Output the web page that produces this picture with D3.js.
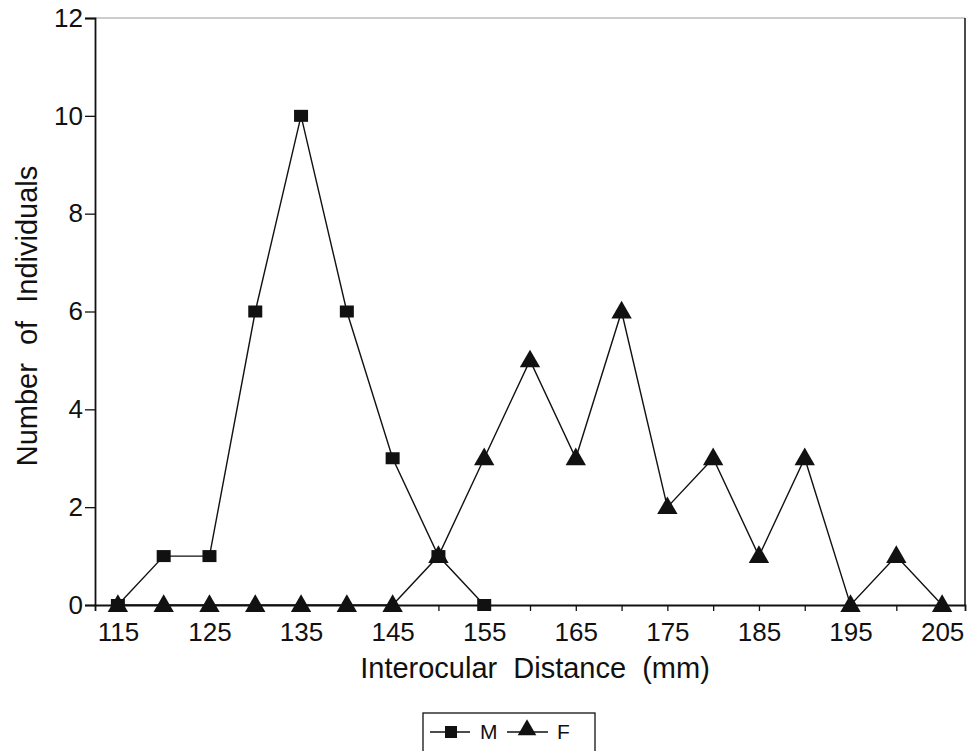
<!DOCTYPE html>
<html>
<head>
<meta charset="utf-8">
<script src="https://cdn.jsdelivr.net/npm/d3@7"></script>
<style>
  body { margin: 0; background: #fff; }
  text { font-family: "Liberation Sans", Arial, sans-serif; fill: #111; }
</style>
</head>
<body>
<svg id="chart" width="967" height="751"></svg>
<script>
// distances (mm) and counts
var distM = [115, 120, 125, 130, 135, 140, 145, 150, 155];
var countM = [0, 1, 1, 6, 10, 6, 3, 1, 0];
var distF = [115, 120, 125, 130, 135, 140, 145, 150, 155, 160, 165, 170, 175, 180, 185, 190, 195, 200, 205];
var countF = [0, 0, 0, 0, 0, 0, 0, 1, 3, 5, 3, 6, 2, 3, 1, 3, 0, 1, 0];
var xLabels = [115, 125, 135, 145, 155, 165, 175, 185, 195, 205];
var yLabels = [0, 2, 4, 6, 8, 10, 12];

var svg = d3.select('#chart');
var mLeft = 95, mRight = 965, mTop = 18, mBottom = 605;

var x = d3.scaleLinear().domain([112.5, 207.5]).range([mLeft, mRight]);
var y = d3.scaleLinear().domain([0, 12]).range([mBottom, mTop]);

// frame: faint top, solid right
svg.append('line').attr('x1', mLeft).attr('x2', mRight).attr('y1', mTop).attr('y2', mTop)
  .attr('stroke', '#999').attr('stroke-width', 1);
svg.append('line').attr('x1', mRight).attr('x2', mRight).attr('y1', mTop).attr('y2', mBottom)
  .attr('stroke', '#111').attr('stroke-width', 1.5);

// y axis
var yAxis = svg.append('g').attr('transform', 'translate(' + mLeft + ',0)')
  .call(d3.axisLeft(y).tickValues(yLabels).tickSize(10).tickPadding(2));
yAxis.select('.domain').attr('stroke', '#111').attr('stroke-width', 1.8);
yAxis.selectAll('.tick line').attr('stroke', '#111').attr('stroke-width', 1.3);
yAxis.selectAll('.tick text').style('font-size', '26px');

// x axis
var xAxis = svg.append('g').attr('transform', 'translate(0,' + mBottom + ')')
  .call(d3.axisBottom(x).tickValues(d3.range(115, 206, 5)).tickSize(6).tickPadding(12)
    .tickFormat(function (d) { return xLabels.indexOf(d) >= 0 ? d : ''; }));
xAxis.select('.domain').attr('stroke', '#111').attr('stroke-width', 1.8);
xAxis.selectAll('.tick line').attr('stroke', '#111').attr('stroke-width', 1.3);
xAxis.selectAll('.tick text').style('font-size', '26px');

// axis titles
svg.append('text').attr('x', 535).attr('y', 678).attr('text-anchor', 'middle')
  .style('font-size', '29px').style('word-spacing', '8px').text('Interocular Distance (mm)');
svg.append('text').attr('transform', 'translate(37,316) rotate(-90)')
  .attr('text-anchor', 'middle').style('font-size', '29px').style('word-spacing', '10px')
  .text('Number of Individuals');

var line = d3.line().x(function (d) { return x(d[0]); }).y(function (d) { return y(d[1]); });
var ptsM = d3.zip(distM, countM);
var ptsF = d3.zip(distF, countF);

svg.append('path').datum(ptsF).attr('d', line)
  .attr('fill', 'none').attr('stroke', '#111').attr('stroke-width', 1.4);
svg.append('path').datum(ptsM).attr('d', line)
  .attr('fill', 'none').attr('stroke', '#111').attr('stroke-width', 1.4);

var tri = d3.symbol().type(d3.symbolTriangle).size(180);
svg.selectAll('.tri').data(ptsF).enter().append('path')
  .attr('class', 'tri')
  .attr('transform', function (d) { return 'translate(' + x(d[0]) + ',' + (y(d[1]) + 1) + ')'; })
  .attr('d', tri).attr('fill', '#111');

svg.selectAll('.sq').data(ptsM).enter().append('rect')
  .attr('class', 'sq')
  .attr('x', function (d) { return x(d[0]) - 7; })
  .attr('y', function (d) { return y(d[1]) - 6; })
  .attr('width', 14).attr('height', 12).attr('fill', '#111');

// legend
var lg = svg.append('g').attr('transform', 'translate(423,713)');
lg.append('rect').attr('width', 172).attr('height', 45)
  .attr('fill', '#fff').attr('stroke', '#111').attr('stroke-width', 1.3);
lg.append('line').attr('x1', 7).attr('x2', 47).attr('y1', 19).attr('y2', 19)
  .attr('stroke', '#111').attr('stroke-width', 1.4);
lg.append('rect').attr('x', 22).attr('y', 13).attr('width', 12).attr('height', 12).attr('fill', '#111');
lg.append('text').attr('x', 57).attr('y', 26).style('font-size', '21px').text('M');
lg.append('line').attr('x1', 84).attr('x2', 125).attr('y1', 19).attr('y2', 19)
  .attr('stroke', '#111').attr('stroke-width', 1.4);
lg.append('path').attr('transform', 'translate(104,17)')
  .attr('d', d3.symbol().type(d3.symbolTriangle).size(150)).attr('fill', '#111');
lg.append('text').attr('x', 134).attr('y', 26).style('font-size', '21px').text('F');
</script>
</body>
</html>
